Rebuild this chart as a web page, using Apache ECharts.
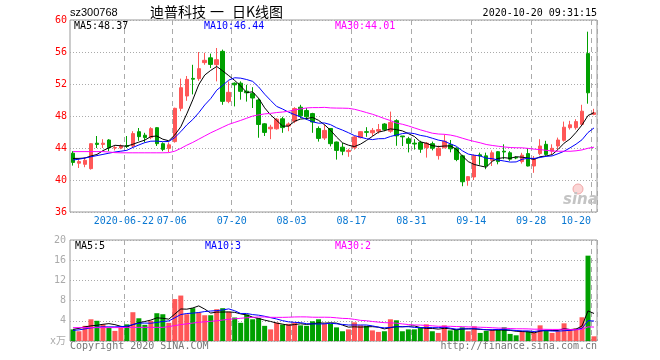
<!DOCTYPE html>
<html><head><meta charset="utf-8">
<script src="https://cdn.jsdelivr.net/npm/echarts@6/dist/echarts.min.js"></script>
<style>html,body{margin:0;padding:0;background:#fff}#c{width:660px;height:360px}</style>
</head><body><div id="c"></div>
<script>
const dates = [
'2020-06-09','2020-06-10','2020-06-11','2020-06-12','2020-06-15','2020-06-16','2020-06-17','2020-06-18','2020-06-19','2020-06-22','2020-06-23','2020-06-24','2020-06-29','2020-06-30',
'2020-07-01','2020-07-02','2020-07-03','2020-07-06','2020-07-07','2020-07-08','2020-07-09','2020-07-10','2020-07-13','2020-07-14','2020-07-15','2020-07-16','2020-07-17','2020-07-20','2020-07-21','2020-07-22','2020-07-23','2020-07-24','2020-07-27','2020-07-28','2020-07-29','2020-07-30','2020-07-31',
'2020-08-03','2020-08-04','2020-08-05','2020-08-06','2020-08-07','2020-08-10','2020-08-11','2020-08-12','2020-08-13','2020-08-14','2020-08-17','2020-08-18','2020-08-19','2020-08-20','2020-08-21','2020-08-24','2020-08-25','2020-08-26','2020-08-27','2020-08-28','2020-08-31',
'2020-09-01','2020-09-02','2020-09-03','2020-09-04','2020-09-07','2020-09-08','2020-09-09','2020-09-10','2020-09-11','2020-09-14','2020-09-15','2020-09-16','2020-09-17','2020-09-18','2020-09-21','2020-09-22','2020-09-23','2020-09-24','2020-09-25','2020-09-28','2020-09-29','2020-09-30',
'2020-10-09','2020-10-12','2020-10-13','2020-10-14','2020-10-15','2020-10-16','2020-10-19','2020-10-20'];

const tickDates  = ['2020-06-22','2020-07-06','2020-07-20','2020-08-03','2020-08-17','2020-08-31','2020-09-14','2020-09-28','2020-10-20'];
const tickLabels = ['2020-06-22','07-06','07-20','08-03','08-17','08-31','09-14','09-28','10-20'];
const priceTicks = [36, 60, 4];
const volTicks = [0, 20, 4];

const opens = [43.35,42.1,41.96,41.42,44.6,44.45,45.0,44.0,44.0,44.3, 44.25,46.04,45.6,45.3,46.54,44.54,43.95,44.8,48.96,50.5,
 52.7,52.67,54.67,55.27,54.42,56.08,49.83,52.1,52.1,51.1, 50.8,50.0,47.02,46.4,46.4,47.65,46.75,47.35,49.1,48.68,
 48.3,46.44,45.25,46.44,44.75,44.1,43.55,44.04,45.3,46.04, 45.9,46.1,47.0,46.1,47.42,45.5,45.15,44.6,44.7,44.04,
 44.54,43.05,44.02,44.4,43.98,43.02,39.96,40.38,43.15,43.02, 42.46,43.54,43.6,43.4,42.82,42.3,43.3,41.75,43.3,44.46,
 43.6,44.25,44.96,46.54,46.54,46.96,55.8,48.2];
const closes = [42.2,42.3,42.46,44.54,44.45,44.6,44.04,44.05,44.25,44.2, 45.8,45.42,45.3,46.42,44.54,43.83,44.4,48.96,51.54,52.58,
 52.6,53.92,54.96,54.45,55.04,49.83,50.96,51.9,51.08,50.9, 50.25,46.94,45.95,46.6,47.6,46.55,47.0,48.94,48.02,47.9,
 47.25,45.2,46.2,44.54,43.7,43.6,43.7,45.38,46.04,45.96, 46.2,46.3,46.3,47.2,45.52,45.4,44.58,44.5,43.85,44.6,
 43.98,43.98,44.85,43.9,42.56,39.78,40.42,43.06,43.0,41.75, 43.4,42.3,43.5,42.6,42.75,43.1,41.75,42.7,44.25,43.2,
 43.96,45.0,46.6,46.9,47.3,48.6,50.9,48.4];
const lows = [41.8,41.5,41.6,41.3,44.0,44.0,43.6,43.7,43.85,44.0, 44.0,44.9,44.7,45.1,44.25,43.6,43.5,44.67,48.6,49.9,
 50.7,52.4,54.4,54.0,52.33,49.4,49.6,49.2,50.04,49.8, 49.0,45.28,45.5,45.1,46.3,45.9,46.1,47.1,47.75,47.5,
 45.9,44.8,45.0,44.2,42.55,43.1,42.9,43.8,45.2,45.4, 45.5,45.8,46.1,45.9,44.28,44.25,43.45,43.8,43.4,42.8,
 43.7,42.55,44.0,43.46,42.35,39.22,39.28,40.0,41.9,41.35, 41.75,41.96,42.6,42.4,42.6,42.05,41.7,40.9,43.1,43.04,
 43.2,43.83,44.8,46.3,46.3,46.9,49.54,48.1];
const highs = [43.6,42.6,42.8,44.6,45.5,45.1,45.1,44.25,44.45,45.5, 46.1,46.5,45.9,46.6,46.6,44.7,44.7,49.04,52.67,53.0,
 54.4,56.0,55.9,55.8,56.5,56.3,52.33,52.2,52.33,51.9, 51.6,50.25,47.1,46.9,47.75,47.9,47.2,49.1,49.4,49.0,
 48.4,46.7,46.95,46.5,44.8,44.65,43.9,45.5,46.1,46.6, 46.5,47.0,47.1,48.55,47.6,45.5,45.4,45.1,44.9,44.75,
 44.8,44.3,45.68,45.0,44.1,43.15,40.5,43.18,43.42,43.42, 43.7,43.62,44.46,43.6,42.95,43.4,44.0,43.0,45.1,44.9,
 44.46,45.3,47.3,47.4,47.6,49.4,58.54,48.9];

const ma5 = [42.7,42.7,42.75,43.0,43.19,43.67,44.02,44.34,44.28,44.23, 44.47,44.74,44.99,45.43,45.50,45.10,44.90,45.63,46.65,48.26,
 50.02,51.92,53.12,53.70,54.19,53.64,53.05,52.44,51.76,50.93, 51.02,50.21,49.02,48.13,47.47,46.73,46.74,47.34,47.62,47.68,
 47.82,47.46,46.91,46.22,45.38,44.65,44.35,44.18,44.48,44.94, 45.46,45.98,46.16,46.39,46.30,46.14,45.80,45.44,44.77,44.59,
 44.30,44.18,44.25,44.26,43.85,43.01,42.30,41.94,41.76,41.60, 42.33,42.70,42.79,42.71,42.91,42.85,42.74,42.58,42.91,43.00,
 43.17,43.82,44.60,45.13,45.95,46.88,48.06,48.42];
const ma10 = [42.5,42.6,42.75,42.9,43.05,43.2,43.35,43.5,43.6,43.71, 44.07,44.38,44.67,44.85,44.86,44.79,44.82,45.31,46.04,46.88,
 47.56,48.41,49.38,50.18,51.23,51.83,52.48,52.78,52.73,52.56, 52.33,51.63,50.73,49.95,49.20,48.87,48.48,48.18,47.88,47.58,
 47.28,47.10,47.13,46.92,46.53,46.24,45.91,45.55,45.35,45.16, 45.05,45.16,45.17,45.44,45.62,45.80,45.89,45.80,45.58,45.45,
 45.22,44.99,44.85,44.52,44.22,43.66,43.24,43.10,43.01,42.73, 42.67,42.50,42.37,42.24,42.26,42.59,42.72,42.69,42.81,42.96,
 43.01,43.28,43.59,44.02,44.48,45.03,45.94,46.51];
const ma30 = [43.55,43.55,43.55,43.55,43.55,43.55,43.5,43.42,43.4,43.4, 43.4,43.4,43.4,43.4,43.4,43.4,43.42,43.6,43.95,44.35,
 44.7,45.1,45.5,45.9,46.25,46.6,46.95,47.2,47.45,47.72, 47.99,48.14,48.26,48.33,48.43,48.50,48.59,48.76,48.88,49.01,
 49.05,49.05,49.08,49.01,48.99,48.98,48.96,48.84,48.65,48.43, 48.22,47.96,47.68,47.43,47.12,46.97,46.76,46.51,46.27,46.06,
 45.85,45.75,45.71,45.62,45.46,45.23,45.01,44.82,44.65,44.44, 44.32,44.22,44.13,44.06,44.03,44.02,43.95,43.86,43.80,43.71,
 43.63,43.59,43.60,43.59,43.65,43.76,43.97,44.10];

const volumes = [2.3,1.93,3.0,4.3,4.0,3.3,2.6,2.0,2.6,3.3, 5.7,4.5,3.2,4.0,5.5,5.3,3.6,8.3,9.0,5.3,
 6.5,5.65,5.1,5.1,6.3,6.5,5.8,4.65,3.6,5.25, 4.3,4.5,3.0,2.3,3.65,3.25,3.4,3.65,3.1,3.0,
 3.9,4.3,3.4,3.4,2.7,1.93,2.3,3.7,3.1,3.0, 2.1,1.8,1.93,4.3,4.1,1.93,2.3,2.3,2.6,3.3,
 1.93,1.6,3.1,2.1,2.3,2.7,1.93,2.9,1.6,2.0, 2.2,2.2,2.7,1.4,1.13,1.93,1.93,1.66,3.1,2.1,
 1.6,1.93,3.5,2.2,2.5,4.7,16.9,0.93];
const vma5 = [2.3,2.5,2.8,3.0,3.11,3.31,3.44,3.24,2.90,2.76, 3.24,3.62,3.86,4.14,4.58,4.50,4.32,5.34,6.34,6.30,
 6.54,6.95,6.31,5.53,5.73,5.73,5.76,5.67,5.37,5.16, 4.72,4.46,4.13,3.87,3.55,3.34,3.12,3.25,3.41,3.28,
 3.41,3.59,3.54,3.60,3.54,3.15,2.75,2.81,2.75,2.81, 2.84,2.74,2.39,2.63,2.85,2.81,2.91,2.99,2.65,2.49,
 2.49,2.35,2.51,2.41,2.21,2.36,2.43,2.39,2.29,2.23, 2.13,2.18,2.14,2.10,1.93,1.87,1.82,1.61,1.95,2.14,
 2.08,2.08,2.45,2.27,2.35,2.97,5.96,5.45];
const vma10 = [2.1,2.2,2.4,2.6,2.75,2.8,2.8,2.8,2.85,2.93, 3.27,3.53,3.55,3.52,3.67,3.87,3.97,4.60,5.24,5.44,
 5.52,5.64,5.83,5.94,6.02,6.14,6.36,5.99,5.45,5.45, 5.23,5.11,4.90,4.62,4.36,4.03,3.79,3.69,3.64,3.42,
 3.38,3.36,3.40,3.51,3.41,3.28,3.17,3.17,3.17,3.17, 2.99,2.74,2.60,2.69,2.83,2.83,2.83,2.69,2.64,2.67,
 2.65,2.63,2.75,2.53,2.35,2.42,2.39,2.45,2.35,2.22, 2.24,2.30,2.26,2.19,2.08,2.00,2.00,1.88,2.03,2.04,
 1.98,1.95,2.03,2.11,2.25,2.52,4.02,3.95];
const vma30 = [2.65,2.65,2.65,2.65,2.65,2.65,2.65,2.65,2.65,2.7, 2.7,2.7,2.7,2.7,2.7,2.7,2.85,3.05,3.25,3.4,
 3.55,3.7,3.8,3.9,4.0,4.15,4.3,4.4,4.5,4.61, 4.67,4.76,4.76,4.69,4.68,4.68,4.71,4.76,4.78,4.77,
 4.71,4.70,4.71,4.69,4.59,4.48,4.44,4.28,4.09,4.01, 3.86,3.74,3.63,3.60,3.53,3.38,3.26,3.18,3.15,3.08,
 3.01,2.91,2.91,2.91,2.86,2.84,2.79,2.77,2.72,2.69, 2.63,2.56,2.54,2.47,2.42,2.42,2.40,2.34,2.34,2.31,
 2.29,2.29,2.35,2.28,2.22,2.31,2.80,2.76];

const RED = '#ff5757', GREEN = '#00a000';
const MONO = "'DejaVu Sans Mono', 'Noto Sans CJK SC', monospace";
const CJK = "14px 'Noto Sans CJK SC', sans-serif";
const GRIDC = '#aaaaaa';

const isTick = (i, v) => tickDates.indexOf(v) >= 0;
const lastTick = tickDates[tickDates.length - 1];

function txt(x, y, s, color, opts) {
  opts = opts || {};
  return { type: 'text', x: x, y: y, z: 100, silent: true,
    style: { text: s, fill: color, font: opts.font || ('10px ' + MONO),
      textAlign: opts.align || 'left', align: opts.align || 'left',
      textVerticalAlign: 'middle', verticalAlign: 'middle' } };
}

const chart = echarts.init(document.getElementById('c'), null, { renderer: 'canvas' });
chart.setOption({
  animation: false,
  backgroundColor: '#ffffff',
  grid: [
    { left: 70, top: 20, width: 527, height: 192, show: true, borderColor: '#999', borderWidth: 1 },
    { left: 70, top: 240, width: 527, height: 101, show: true, borderColor: '#999', borderWidth: 1 }
  ],
  xAxis: [
    { type: 'category', gridIndex: 0, data: dates, boundaryGap: true,
      axisLine: { show: false }, axisTick: { show: false },
      axisLabel: { interval: isTick, color: '#0a78d2', fontFamily: MONO, fontSize: 10, margin: 4,
        padding: [0, 6, 0, 0],
        formatter: function (v) { const k = tickDates.indexOf(v); return v === lastTick ? '{e|' + tickLabels[k] + '}' : tickLabels[k]; },
        rich: { e: { color: '#0a78d2', fontFamily: MONO, fontSize: 10, padding: [0, 30, 0, 0] } } },
      splitLine: { show: true, interval: isTick, lineStyle: { color: GRIDC, type: [5, 4], width: 1 } } },
    { type: 'category', gridIndex: 1, data: dates, boundaryGap: true,
      axisLine: { show: false }, axisTick: { show: false }, axisLabel: { show: false },
      splitLine: { show: true, interval: isTick, lineStyle: { color: GRIDC, type: [5, 4], width: 1 } } }
  ],
  yAxis: [
    { type: 'value', gridIndex: 0, min: priceTicks[0], max: priceTicks[1], interval: priceTicks[2],
      axisLine: { show: false }, axisTick: { show: false },
      axisLabel: { color: '#ff0000', fontFamily: MONO, fontSize: 10, margin: 3 },
      splitLine: { show: true, lineStyle: { color: GRIDC, type: [1, 2], width: 1 } } },
    { type: 'value', gridIndex: 1, min: volTicks[0], max: volTicks[1], interval: volTicks[2],
      axisLine: { show: false }, axisTick: { show: false },
      axisLabel: { color: '#aaaaaa', fontFamily: MONO, fontSize: 10, margin: 4,
        formatter: function (v) { return v === 0 ? 'x万' : String(v); } },
      splitLine: { show: true, lineStyle: { color: GRIDC, type: [1, 2], width: 1 } } }
  ],
  series: [
    { type: 'candlestick', xAxisIndex: 0, yAxisIndex: 0, barWidth: 4,
      data: opens.map((o, i) => [o, closes[i], lows[i], highs[i]]),
      itemStyle: { color: RED, color0: GREEN, borderColor: RED, borderColor0: GREEN, borderWidth: 1 } },
    { type: 'line', xAxisIndex: 0, yAxisIndex: 0, data: ma5, symbol: 'none', lineStyle: { color: '#000000', width: 1 }, z: 5 },
    { type: 'line', xAxisIndex: 0, yAxisIndex: 0, data: ma10, symbol: 'none', lineStyle: { color: '#0000ff', width: 1 }, z: 5 },
    { type: 'line', xAxisIndex: 0, yAxisIndex: 0, data: ma30, symbol: 'none', lineStyle: { color: '#ff00ff', width: 1 }, z: 5 },
    { type: 'bar', xAxisIndex: 1, yAxisIndex: 1, barWidth: 5,
      data: volumes.map((v, i) => ({ value: v, itemStyle: { color: closes[i] >= opens[i] ? RED : GREEN } })) },
    { type: 'line', xAxisIndex: 1, yAxisIndex: 1, data: vma5, symbol: 'none', lineStyle: { color: '#000000', width: 1 }, z: 5 },
    { type: 'line', xAxisIndex: 1, yAxisIndex: 1, data: vma10, symbol: 'none', lineStyle: { color: '#0000ff', width: 1 }, z: 5 },
    { type: 'line', xAxisIndex: 1, yAxisIndex: 1, data: vma30, symbol: 'none', lineStyle: { color: '#ff00ff', width: 1 }, z: 5 }
  ],
  graphic: [
    txt(70, 13, 'sz300768', '#000', { font: "11px 'Liberation Sans', Arial, sans-serif" }),
    txt(150, 12, '迪普科技', '#000', { font: CJK }),
    txt(210, 12, '一', '#000', { font: CJK }),
    txt(232, 12, '日K线图', '#000', { font: CJK }),
    txt(597, 13, '2020-10-20 09:31:15', '#000', { align: 'right' }),
    txt(74, 26, 'MA5:48.37', '#000000'),
    txt(204, 26, 'MA10:46.44', '#0000ff'),
    txt(335, 26, 'MA30:44.01', '#ff00ff'),
    txt(75, 246, 'MA5:5', '#000000'),
    txt(205, 246, 'MA10:3', '#0000ff'),
    txt(335, 246, 'MA30:2', '#ff00ff'),
    txt(70, 346, 'Copyright 2020 SINA.COM', '#777777'),
    txt(597, 346, 'http://finance.sina.com.cn', '#777777', { align: 'right' }),
    { type: 'circle', shape: { cx: 578, cy: 189, r: 5 }, z: 1, silent: true,
      style: { fill: '#fbd6d6', stroke: '#f2a8a8', lineWidth: 1 } },
    txt(563, 200, 'sina', '#c4c4c4', { font: "italic bold 15px 'DejaVu Sans', sans-serif" })
  ]
});
</script></body></html>
